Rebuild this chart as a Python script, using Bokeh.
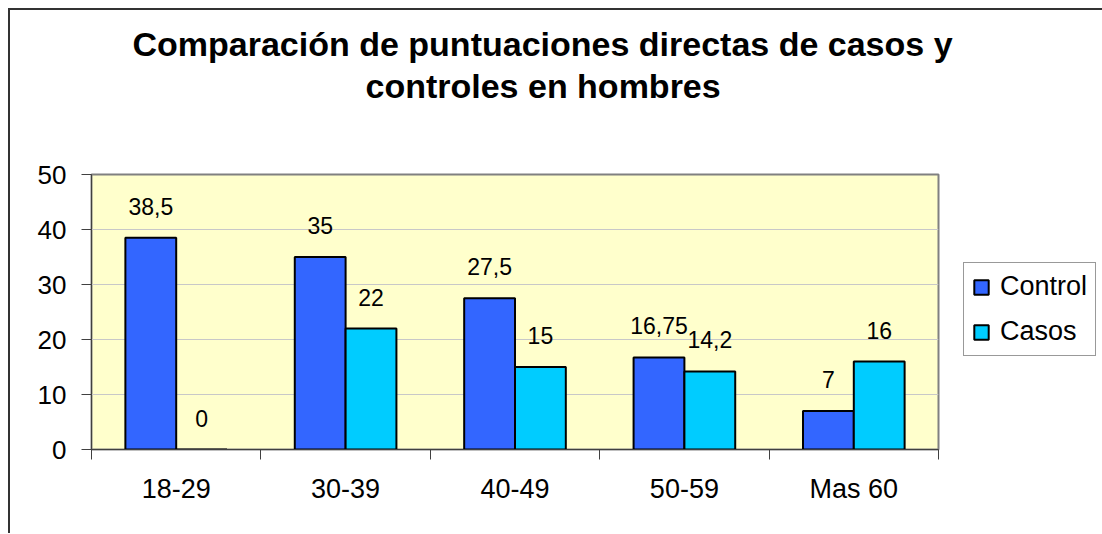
from bokeh.plotting import figure
from bokeh.models import (ColumnDataSource, Range1d, LinearAxis, FixedTicker, LabelSet, Title,
                          Legend, LegendItem)
from bokeh.transform import dodge
from bokeh.core.properties import value
from bokeh.embed import file_html
from bokeh.resources import INLINE

categories = ["18-29", "30-39", "40-49", "50-59", "Mas 60"]
control = [38.5, 35, 27.5, 16.75, 7]
casos = [0, 22, 15, 14.2, 16]
control_labels = ["38,5", "35", "27,5", "16,75", "7"]
casos_labels = ["0", "22", "15", "14,2", "16"]
y_ticks = [0, 10, 20, 30, 40, 50]
title_lines = ["Comparación de puntuaciones directas de casos y", "controles en hombres"]

FONT = "Liberation Sans"

pos = [i + 0.5 for i in range(len(categories))]
src = ColumnDataSource(data=dict(pos=pos, control=control, casos=casos,
                                 control_lab=control_labels, casos_lab=casos_labels))

p = figure(x_range=Range1d(0, len(categories)), y_range=Range1d(0, 50),
           frame_width=847, frame_height=275, output_backend="svg", toolbar_location=None,
           x_axis_location=None, y_axis_location="left",
           min_border_left=81, min_border_right=163, min_border_top=164, min_border_bottom=84)
p.styles = {"border-left": "2px solid #333333", "border-top": "2px solid #333333",
            "margin-left": "8px", "margin-top": "8px"}

p.background_fill_color = "#FFFFCC"
p.border_fill_color = "white"
p.outline_line_color = "#808080"
p.outline_line_width = 2

p.xgrid.visible = False
p.ygrid.grid_line_color = "#c8c8c8"
p.ygrid.grid_line_width = 1
p.ygrid.ticker = FixedTicker(ticks=y_ticks)

# y axis
p.yaxis.ticker = FixedTicker(ticks=y_ticks)
p.yaxis.major_tick_out = 10
p.yaxis.major_tick_in = 0
p.yaxis.minor_tick_line_color = None
p.yaxis.axis_line_color = "#404040"
p.yaxis.major_tick_line_color = "#404040"
p.yaxis.major_label_text_font = FONT
p.yaxis.major_label_text_font_size = "26px"
p.yaxis.major_label_text_color = "black"
p.yaxis.major_label_standoff = 15

# x tick axis at category boundaries (no labels)
bounds = list(range(len(categories) + 1))
tick_axis = LinearAxis(ticker=FixedTicker(ticks=bounds),
                       major_label_overrides={b: "" for b in bounds},
                       major_tick_out=10, major_tick_in=0, minor_tick_line_color=None,
                       axis_line_color="#404040", major_tick_line_color="#404040",
                       major_label_text_font_size="1px", major_label_text_alpha=0,
                       major_label_standoff=0)
p.add_layout(tick_axis, "below")
# category labels at category centres
cat_axis = LinearAxis(ticker=FixedTicker(ticks=pos),
                      major_label_overrides={x: c for x, c in zip(pos, categories)},
                      major_tick_line_color=None, major_tick_out=0, major_tick_in=0,
                      minor_tick_line_color=None, axis_line_color=None,
                      major_label_text_font=FONT,
                      major_label_text_font_size="27px", major_label_text_color="black",
                      major_label_standoff=14)
p.add_layout(cat_axis, "below")

r1 = p.vbar(x=dodge("pos", -0.15), top="control", width=0.3, source=src,
            fill_color="#3366FF", line_color="black", line_width=2)
r2 = p.vbar(x=dodge("pos", 0.15), top="casos", width=0.3, source=src,
            fill_color="#00CCFF", line_color="black", line_width=2)

for off, col in [(-0.15, "control"), (0.15, "casos")]:
    ls = LabelSet(x=dodge("pos", off), y=col, text=col + "_lab", source=src,
                  y_offset=23, text_align="center", text_baseline="alphabetic",
                  text_font=value(FONT), text_font_size="23px", text_color="black")
    p.add_layout(ls)

# two-line title; panels added first sit closest to the frame
spacer = Title(text=" ", align="left", standoff=55, text_font=FONT, text_font_size="10px")
t2 = Title(text=title_lines[1], align="left", offset=274, standoff=4, text_font=FONT,
           text_font_size="34px", text_font_style="bold", text_color="black")
t1 = Title(text=title_lines[0], align="left", offset=41, standoff=0, text_font=FONT,
           text_font_size="34px", text_font_style="bold", text_color="black")
p.add_layout(spacer, "above")
p.add_layout(t2, "above")
p.add_layout(t1, "above")

leg = Legend(items=[LegendItem(label="Control", renderers=[r1]),
                    LegendItem(label="Casos", renderers=[r2])],
             location=(25, 93), margin=0)
leg.label_text_font = FONT
leg.label_text_font_size = "27px"
leg.label_text_color = "black"
leg.glyph_height = 18
leg.glyph_width = 18
leg.label_standoff = 10
leg.padding = 8
leg.spacing = 14
leg.border_line_color = "#333333"
leg.border_line_width = 1
leg.background_fill_color = "white"
leg.background_fill_alpha = 1
p.add_layout(leg, "right")

open("out.html", "w").write(file_html(p, INLINE))
